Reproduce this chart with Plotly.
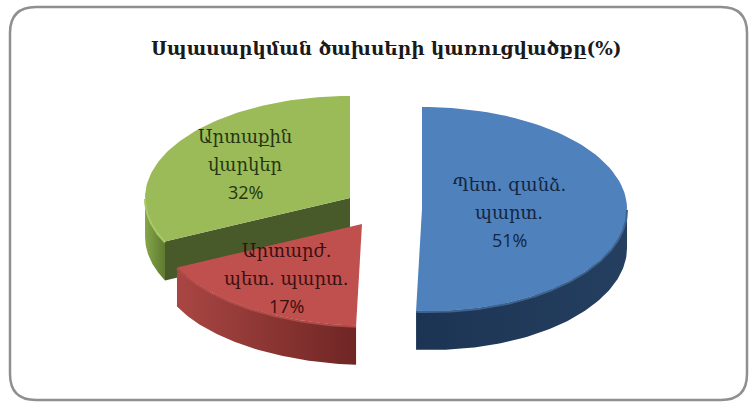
import numpy as np
import plotly.graph_objects as go

# ---- data ----
title = "Սպասարկման ծախսերի կառուցվածքը(%)"
categories = ["Պետ. զանձ.<br>պարտ.", "Արտարժ.<br>պետ. պարտ.", "Արտաքին<br>վարկեր"]
values = [51, 17, 32]

# ---- styles / layout ----
W, H = 749, 403
RX, RY, DEPTH = 205, 102, 39
WARP = 7  # perspective pull of the near edge
centers = [(422, 209), (362, 224), (350, 198)]
top_colors = ["#4f81bd", "#c0504d", "#9bbb59"]
rim_grads = [["#1c3454", "#253f60"], ["#a94643", "#6f2624"], ["#86a648", "#5d7a2f"]]
bevels = ["#3d6490", "#b04a47", "#a9c86b"]
wall_colors = [None, None, "#48592a"]
label_pos = [(509, 184), (286, 250), (245, 136)]
label_dark = ["#14263f", "#3a1010", "#26350f"]
LINE = 28

cum = np.concatenate([[0], np.cumsum(values)]) / np.sum(values) * 2 * np.pi


def ell(c, t, dz=0):
    warp = WARP * ((1 - np.cos(t)) / 2) ** 8
    return c[0] + RX * np.sin(t) + warp, c[1] - RY * np.cos(t) + dz


fig = go.Figure()


def poly(x, y, **kw):
    fig.add_trace(go.Scatter(x=list(x), y=list(y), mode="lines", fill="toself",
                             hoverinfo="skip", showlegend=False, **kw))


for i in [2, 0, 1]:  # back to front
    c = centers[i]
    t = np.linspace(cum[i], cum[i + 1], 90)
    # outer rim: only the front half of the circle is visible
    lo, hi = max(cum[i], np.pi / 2), min(cum[i + 1], 3 * np.pi / 2)
    rt = np.linspace(lo, hi, 80)
    x1, y1 = ell(c, rt)
    x2, y2 = ell(c, rt[::-1], DEPTH)
    poly(np.r_[x1, x2], np.r_[y1, y2], line=dict(width=0),
         fillgradient=dict(type="horizontal",
                           colorscale=[[0, rim_grads[i][0]], [1, rim_grads[i][1]]]))
    # cut wall facing the viewer
    if wall_colors[i]:
        ex, ey = ell(c, cum[i])
        poly([c[0], ex, ex, c[0]], [c[1], ey, ey + DEPTH, c[1] + DEPTH],
             line=dict(width=0), fillcolor=wall_colors[i])
    # top face
    tx, ty = ell(c, t)
    poly(np.r_[c[0], tx, c[0]], np.r_[c[1], ty, c[1]], line=dict(width=0),
         fillcolor=top_colors[i])
    # bevel highlight along the front edge
    bx, by = ell(c, rt, 1)
    fig.add_trace(go.Scatter(x=bx, y=by, mode="lines", hoverinfo="skip", showlegend=False,
                             line=dict(color=bevels[i], width=2)))

# labels
for i, cat in enumerate(categories):
    lines = cat.split("<br>") + [f"{values[i]}%"]
    for j, s in enumerate(lines):
        isnum = s.endswith("%")
        fig.add_annotation(x=label_pos[i][0], y=label_pos[i][1] + j * LINE, text=s,
                           showarrow=False, xanchor="center", yanchor="middle",
                           font=dict(family="Open Sans" if isnum else "DejaVu Serif",
                                     size=18, color=label_dark[i]))

fig.add_annotation(x=386, y=48, text=f"<b>{title}</b>", showarrow=False,
                   font=dict(family="DejaVu Serif", size=18.5, color="#1a1a1a"))

# frame
x0, y0, x1, y1, r = 10, 7, 747, 400, 26
frame = (f"M{x0+r},{y0} L{x1-r},{y0} Q{x1},{y0} {x1},{y0+r} L{x1},{y1-r} Q{x1},{y1} {x1-r},{y1} "
         f"L{x0+r},{y1} Q{x0},{y1} {x0},{y1-r} L{x0},{y0+r} Q{x0},{y0} {x0+r},{y0} Z")
fig.add_shape(type="path", path=frame, xref="x", yref="y", layer="below",
              line=dict(color="#8f8f8f", width=2.5), fillcolor="white")

fig.update_layout(width=W, height=H, margin=dict(l=0, r=0, t=0, b=0),
                  paper_bgcolor="white", plot_bgcolor="white",
                  xaxis=dict(range=[0, W], visible=False, fixedrange=True),
                  yaxis=dict(range=[H, 0], visible=False, fixedrange=True))
fig.write_html("out.html", config={"displayModeBar": False},
               post_script="document.body.style.margin='0';document.body.style.overflow='hidden';")
